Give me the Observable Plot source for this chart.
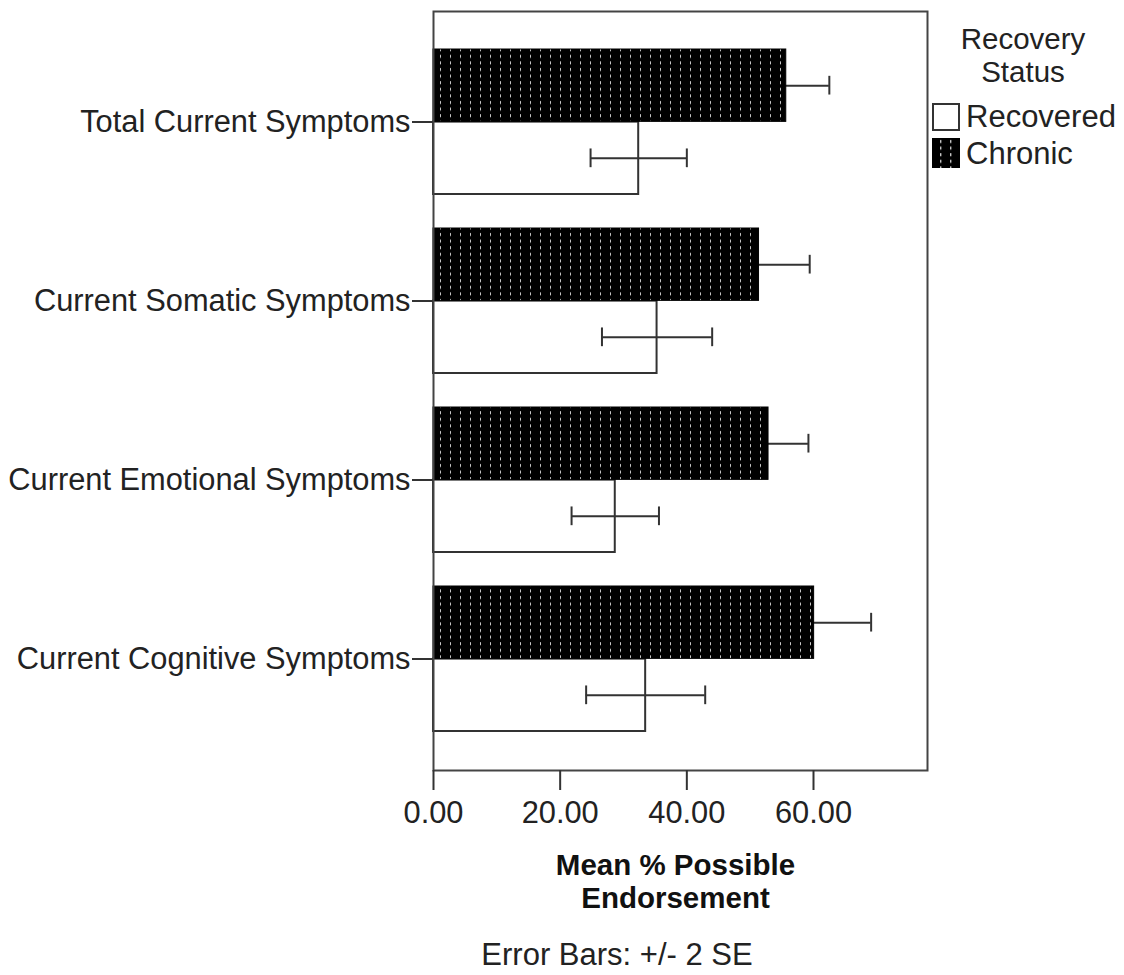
<!DOCTYPE html>
<html><head><meta charset="utf-8">
<script src="https://cdn.jsdelivr.net/npm/d3@7"></script>
<script src="https://cdn.jsdelivr.net/npm/@observablehq/plot@0.6"></script>
<style>
body{margin:0;background:#fff;font-family:"Liberation Sans",Arial,sans-serif;color:#222;}
#wrap{position:relative;width:1124px;height:975px;background:#fff;}
#wrap svg{display:block;}
.abs{position:absolute;white-space:nowrap;}
</style></head><body><div id="wrap"></div>
<script>
const categories = ["Total Current Symptoms","Current Somatic Symptoms","Current Emotional Symptoms","Current Cognitive Symptoms"];
const statuses = ["Chronic","Recovered"];
const chronicMeans = [55.7, 51.4, 52.9, 60.1];
const chronicErr2SE = [6.8, 8.0, 6.3, 9.0];
const recoveredMeans = [32.4, 35.3, 28.7, 33.5];
const recoveredErr2SE = [7.6, 8.7, 6.9, 9.4];
const xTicks = [0, 20, 40, 60];
const xMax = 78;
const legendTitle = "Recovery\nStatus";
const legendItems = ["Recovered", "Chronic"];
const xLabel = "Mean % Possible\nEndorsement";
const caption = "Error Bars: +/- 2 SE";

const rows = [];
categories.forEach((cat, i) => {
  rows.push({cat, status: "Chronic", mean: chronicMeans[i], lo: chronicMeans[i] - chronicErr2SE[i], hi: chronicMeans[i] + chronicErr2SE[i]});
  rows.push({cat, status: "Recovered", mean: recoveredMeans[i], lo: recoveredMeans[i] - recoveredErr2SE[i], hi: recoveredMeans[i] + recoveredErr2SE[i]});
});
const chronic = rows.filter(d => d.status === "Chronic");
const recovered = rows.filter(d => d.status === "Recovered");

const W = 1124, H = 915, mT = 11, mB = 145, mL = 433, mR = 197;
const yOpts = {domain: categories, paddingInner: 0.189, paddingOuter: 0.213};
const bw = Plot.scale({y: {type: "band", ...yOpts, range: [mT, H - mB]}}).bandwidth;
const half = bw / 2;
const capH = 19;
const capInset = (half - capH) / 2;

function patternDefs() {
  const defs = d3.create("svg:defs");
  const p = defs.append("pattern").attr("id", "dots").attr("patternUnits", "userSpaceOnUse")
    .attr("x", 1).attr("y", 0).attr("width", 10).attr("height", 6.6);
  p.append("rect").attr("width", 10).attr("height", 6.6).attr("fill", "black");
  p.append("rect").attr("x", 9).attr("y", 2).attr("width", 1.4).attr("height", 3).attr("fill", "#c8c8c8");
  return defs.node();
}

const errStyle = {stroke: "#333", strokeWidth: 2};
const plot = Plot.plot({
  width: W, height: H,
  marginLeft: mL, marginRight: mR, marginTop: mT, marginBottom: mB,
  style: {fontFamily: "'Liberation Sans', Arial, sans-serif", fontSize: "30.8px", color: "#222", background: "white"},
  x: {domain: [0, xMax]},
  y: yOpts,
  marks: [
    () => patternDefs(),
    // Recovered (lower half of each band)
    Plot.barX(recovered, {y: "cat", x: "mean", insetTop: half, fill: "white", stroke: "#333", strokeWidth: 2}),
    Plot.ruleY(recovered, {y: "cat", x1: "lo", x2: "hi", dy: half / 2, ...errStyle}),
    Plot.tickX(recovered, {y: "cat", x: "lo", insetTop: half + capInset, insetBottom: capInset, ...errStyle}),
    Plot.tickX(recovered, {y: "cat", x: "hi", insetTop: half + capInset, insetBottom: capInset, ...errStyle}),
    // Chronic (upper half of each band)
    Plot.ruleY(chronic, {y: "cat", x1: "lo", x2: "hi", dy: -half / 2, ...errStyle}),
    Plot.tickX(chronic, {y: "cat", x: "hi", insetTop: capInset, insetBottom: half + capInset, ...errStyle}),
    Plot.barX(chronic, {y: "cat", x: "mean", insetBottom: half, fill: "url(#dots)", stroke: "black", strokeWidth: 1}),
    Plot.frame({stroke: "#444", strokeWidth: 2}),
    Plot.axisX({ticks: xTicks, tickFormat: d3.format(".2f"), tickSize: 20, tickPadding: 11, strokeWidth: 2, stroke: "#333",
      label: xLabel, labelAnchor: "center", labelOffset: 134, labelArrow: false}),
    Plot.axisY({anchor: "left", tickSize: 21, tickPadding: 2, strokeWidth: 2, stroke: "#333", label: null})
  ]
});
const lab = d3.select(plot).selectAll('[aria-label="x-axis label"]');
lab.attr("font-weight", "bold").attr("fill", "#111").attr("font-size", "29.5px")
  .attr("transform", function() { return (this.getAttribute("transform") || "") + " translate(-5,0)"; });
lab.selectAll("tspan").each(function(d, i) { if (i > 0) this.setAttribute("dy", "1.13em"); });

const wrap = document.getElementById("wrap");
wrap.appendChild(plot);

function addDiv(text, css) {
  const d = document.createElement("div");
  d.className = "abs";
  d.textContent = text;
  Object.assign(d.style, css);
  wrap.appendChild(d);
  return d;
}
addDiv(legendTitle, {left: "940px", top: "22px", width: "166px", textAlign: "center", fontSize: "29.5px", lineHeight: "33px", whiteSpace: "pre"});
const sw1 = document.createElement("div");
Object.assign(sw1.style, {position: "absolute", left: "932px", top: "103px", width: "28px", height: "28px", border: "2px solid #333", boxSizing: "border-box", background: "#fff"});
wrap.appendChild(sw1);
const sw2 = document.createElementNS("http://www.w3.org/2000/svg", "svg");
sw2.setAttribute("width", 28); sw2.setAttribute("height", 30);
sw2.style.position = "absolute"; sw2.style.left = "932px"; sw2.style.top = "138px";
sw2.innerHTML = '<defs><pattern id="dots2" patternUnits="userSpaceOnUse" x="0" y="0" width="10" height="6.6"><rect width="10" height="6.6" fill="black"/><rect x="8" y="2" width="1.4" height="3" fill="#c8c8c8"/></pattern></defs><rect width="28" height="30" fill="url(#dots2)"/>';
wrap.appendChild(sw2);
addDiv(legendItems[0], {left: "966px", top: "102px", fontSize: "31px", lineHeight: "30px"});
addDiv(legendItems[1], {left: "966px", top: "139px", fontSize: "31px", lineHeight: "30px"});
addDiv(caption, {left: "417px", top: "940px", width: "400px", textAlign: "center", fontSize: "31px", lineHeight: "30px"});
</script></body></html>
